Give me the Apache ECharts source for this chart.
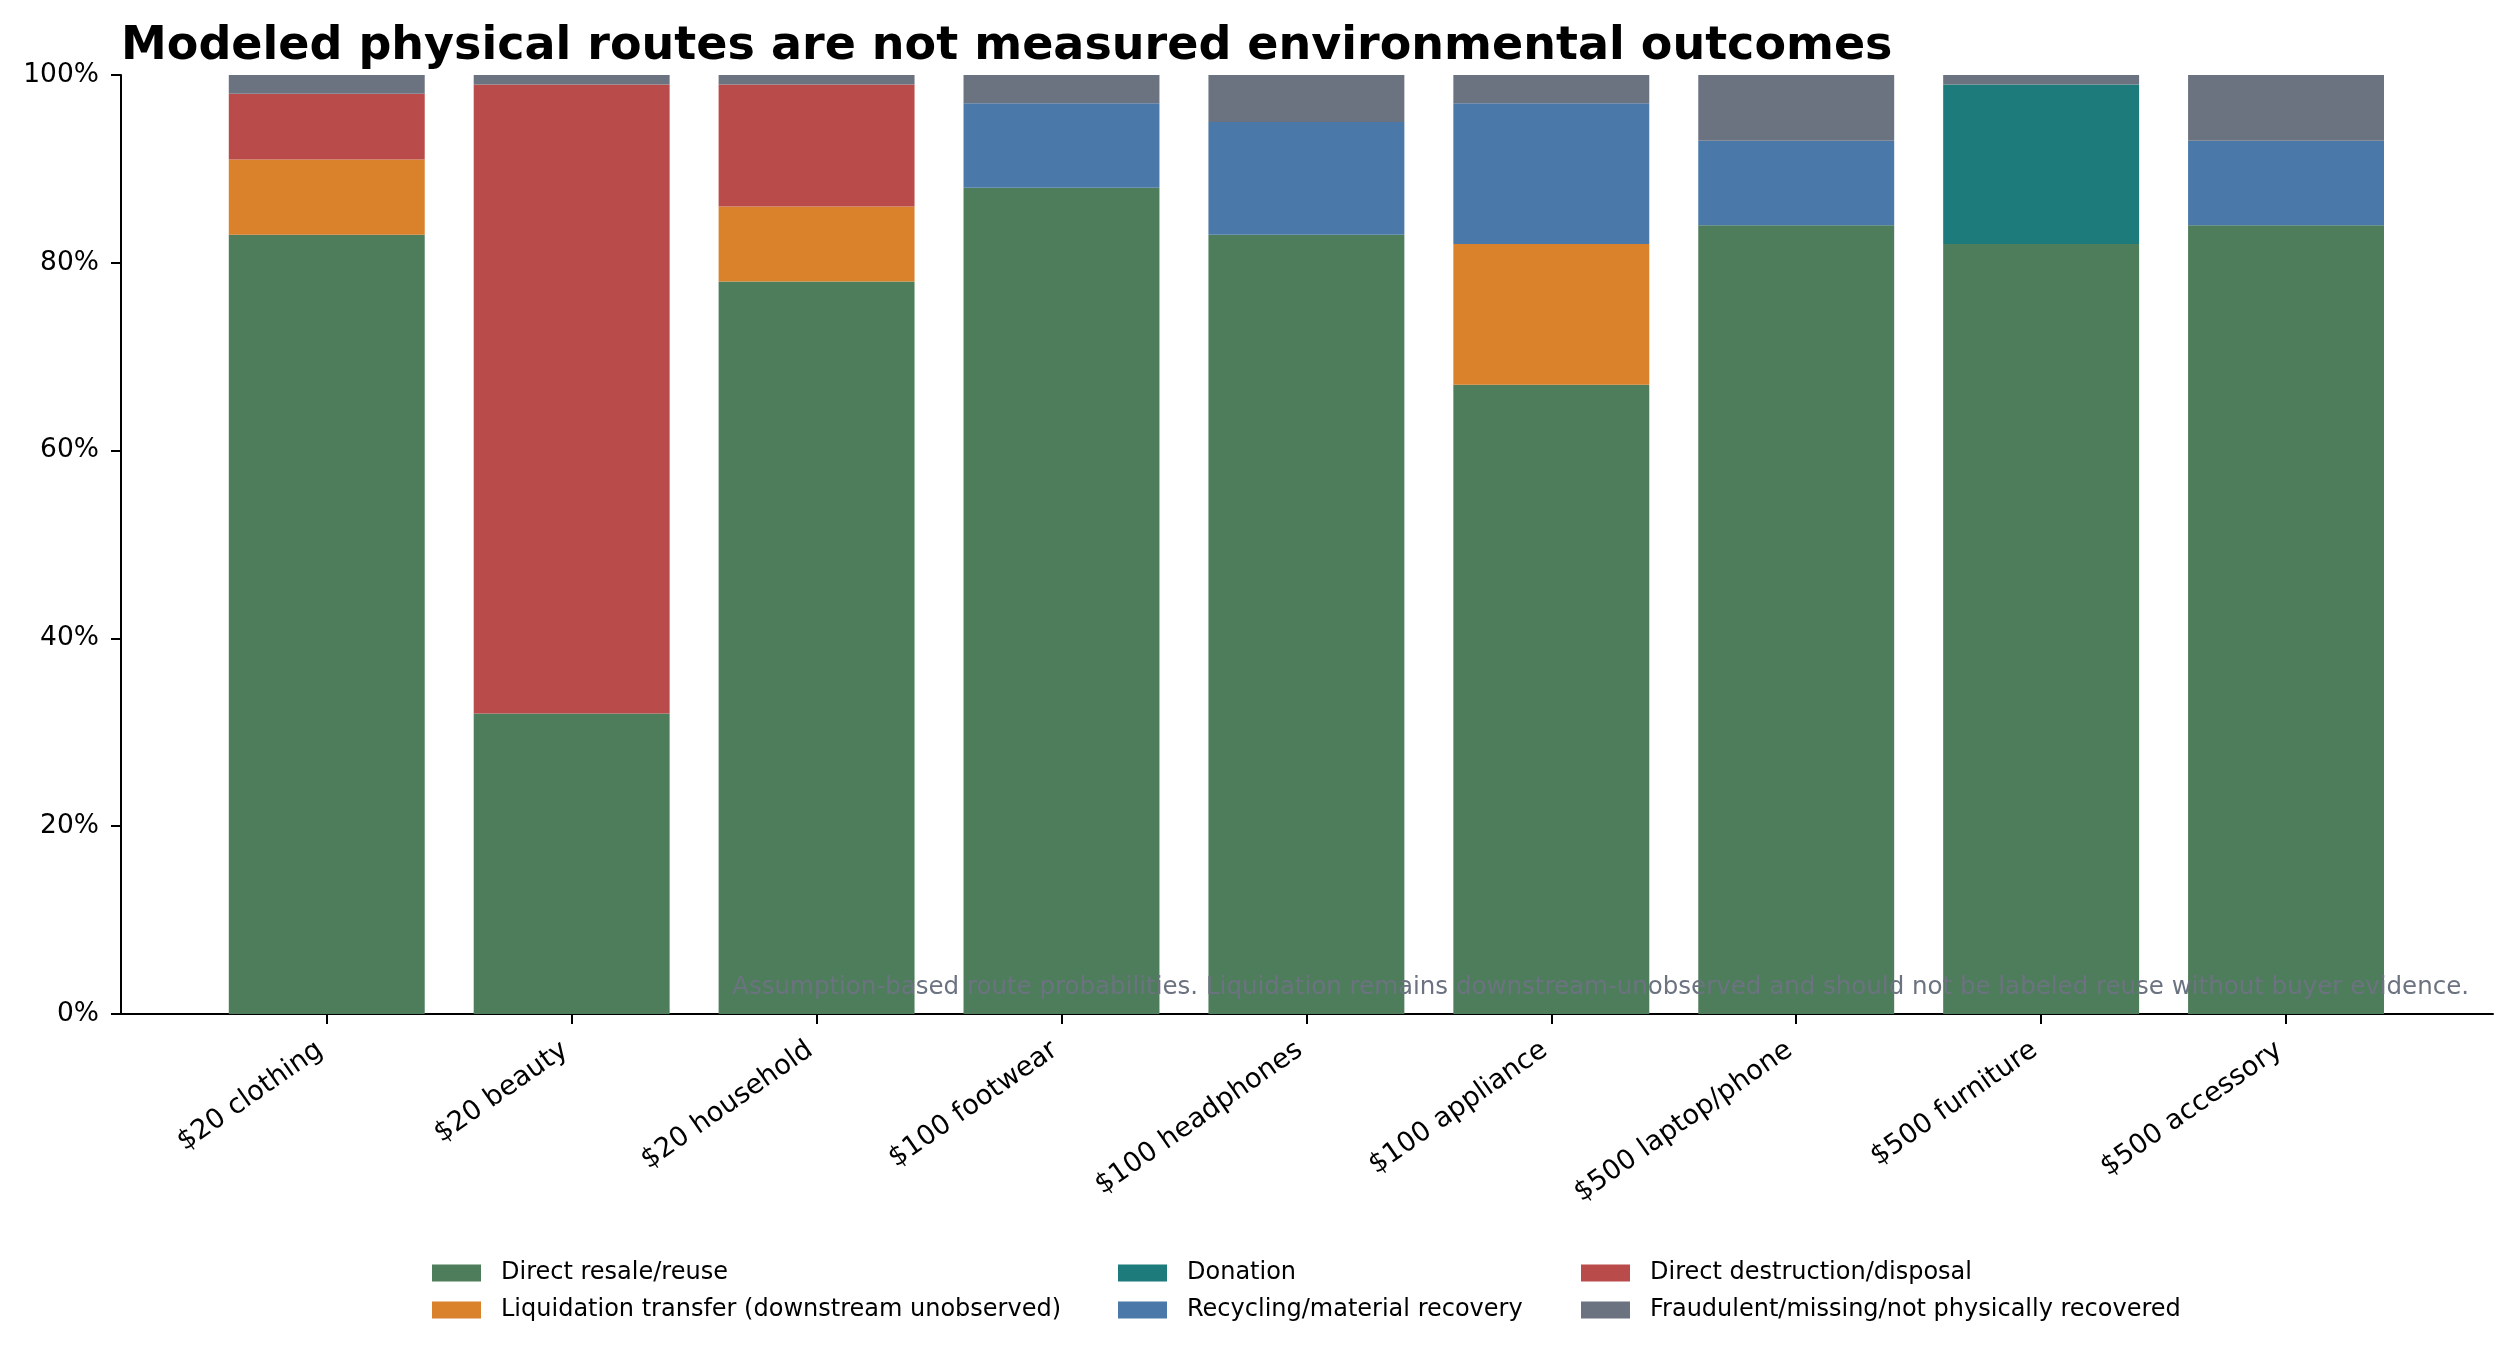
<!DOCTYPE html>
<html>
<head>
<meta charset="utf-8">
<script src="https://cdn.jsdelivr.net/npm/echarts@6/dist/echarts.min.js"></script>
<style>
html, body { margin: 0; padding: 0; background: #fff; }
#chart { width: 2514px; height: 1354px; }
</style>
</head>
<body>
<div id="chart"></div>
<script>
// categories along the x axis
const categories = ['$20 clothing', '$20 beauty', '$20 household', '$100 footwear', '$100 headphones',
    '$100 appliance', '$500 laptop/phone', '$500 furniture', '$500 accessory'];

// route shares in percent, bottom to top of each stack
const resale      = [83, 32, 78, 88, 83, 67, 84, 82, 84];
const liquidation = [ 8,  0,  8,  0,  0, 15,  0,  0,  0];
const donation    = [ 0,  0,  0,  0,  0,  0,  0, 17,  0];
const recycling   = [ 0,  0,  0,  9, 12, 15,  9,  0,  9];
const destruction = [ 7, 67, 13,  0,  0,  0,  0,  0,  0];
const fraud       = [ 2,  1,  1,  3,  5,  3,  7,  1,  7];

const yTicks = [0, 20, 40, 60, 80, 100];

const routeNames = ['Direct resale/reuse', 'Liquidation transfer (downstream unobserved)', 'Donation',
    'Recycling/material recovery', 'Direct destruction/disposal', 'Fraudulent/missing/not physically recovered'];
const routeValues = [resale, liquidation, donation, recycling, destruction, fraud];
const routeColors = ['#4e7d5b', '#d9812b', '#1e7b7b', '#4a78a8', '#b94b4a', '#6c7380'];

const FONT = 'DejaVu Sans';
const chart = echarts.init(document.getElementById('chart'), null, { renderer: 'canvas' });

// grid 0 holds the bars (inset so the outer bars get matplotlib-like margins),
// grid 1 spans the full axes box and only carries the spines / y ticks
const series = routeNames.map((name, k) => ({
    name: name,
    type: 'bar',
    stack: 'routes',
    barWidth: '80%',
    xAxisIndex: 0,
    yAxisIndex: 0,
    itemStyle: { color: routeColors[k] },
    emphasis: { disabled: true },
    data: routeValues[k]
}));

const legendBase = {
    orient: 'vertical',
    top: 1256,
    itemWidth: 49,
    itemHeight: 17,
    itemGap: 13,
    icon: 'rect',
    textStyle: { fontFamily: FONT, fontSize: 24, color: '#000', lineHeight: 24, padding: [0, 0, 0, 15] }
};

chart.setOption({
    animation: false,
    backgroundColor: '#fff',
    title: {
        text: 'Modeled physical routes are not measured environmental outcomes',
        left: 121,
        top: 24,
        padding: 0,
        textStyle: { fontFamily: FONT, fontSize: 46, fontWeight: 'bold', color: '#000' }
    },
    legend: [
        Object.assign({}, legendBase, { left: 427, data: [routeNames[0], routeNames[1]] }),
        Object.assign({}, legendBase, { left: 1113, data: [routeNames[2], routeNames[3]] }),
        Object.assign({}, legendBase, { left: 1576, data: [routeNames[4], routeNames[5]] })
    ],
    grid: [
        { left: 204.3, right: 105.5, top: 75, bottom: 340, containLabel: false },
        { left: 121, right: 21, top: 75, bottom: 340, containLabel: false }
    ],
    xAxis: [{
        type: 'category',
        gridIndex: 0,
        data: categories,
        axisLine: { show: false },
        axisTick: { show: true, alignWithLabel: true, length: 10, lineStyle: { color: '#000', width: 2 } },
        axisLabel: {
            interval: 0,
            rotate: 35,
            margin: 29,
            padding: [0, 8, 0, 0],
            fontFamily: FONT,
            fontSize: 27.3,
            color: '#000'
        }
    }, {
        type: 'value',
        gridIndex: 1,
        min: 0,
        max: 1,
        splitLine: { show: false },
        axisLine: { show: true, onZero: false, lineStyle: { color: '#000', width: 2 } },
        axisTick: { show: false },
        axisLabel: { show: false }
    }],
    yAxis: [{
        type: 'value',
        gridIndex: 0,
        min: yTicks[0],
        max: yTicks[yTicks.length - 1],
        show: false
    }, {
        type: 'value',
        gridIndex: 1,
        min: yTicks[0],
        max: yTicks[yTicks.length - 1],
        interval: 20,
        splitLine: { show: false },
        axisLine: { show: true, onZero: false, lineStyle: { color: '#000', width: 2 } },
        axisTick: { show: true, length: 10, lineStyle: { color: '#000', width: 2 } },
        axisLabel: {
            formatter: '{value}%',
            margin: 22,
            fontFamily: FONT,
            fontSize: 26.5,
            color: '#000'
        }
    }],
    graphic: [{
        type: 'text',
        z: 100,
        x: 2469,
        y: 1000,
        style: {
            text: 'Assumption-based route probabilities. Liquidation remains downstream-unobserved and should not be labeled reuse without buyer evidence.',
            fontFamily: FONT,
            fontSize: 24.5,
            fill: '#6c7380',
            textAlign: 'right',
            textVerticalAlign: 'bottom'
        }
    }],
    series: series
});
</script>
</body>
</html>
